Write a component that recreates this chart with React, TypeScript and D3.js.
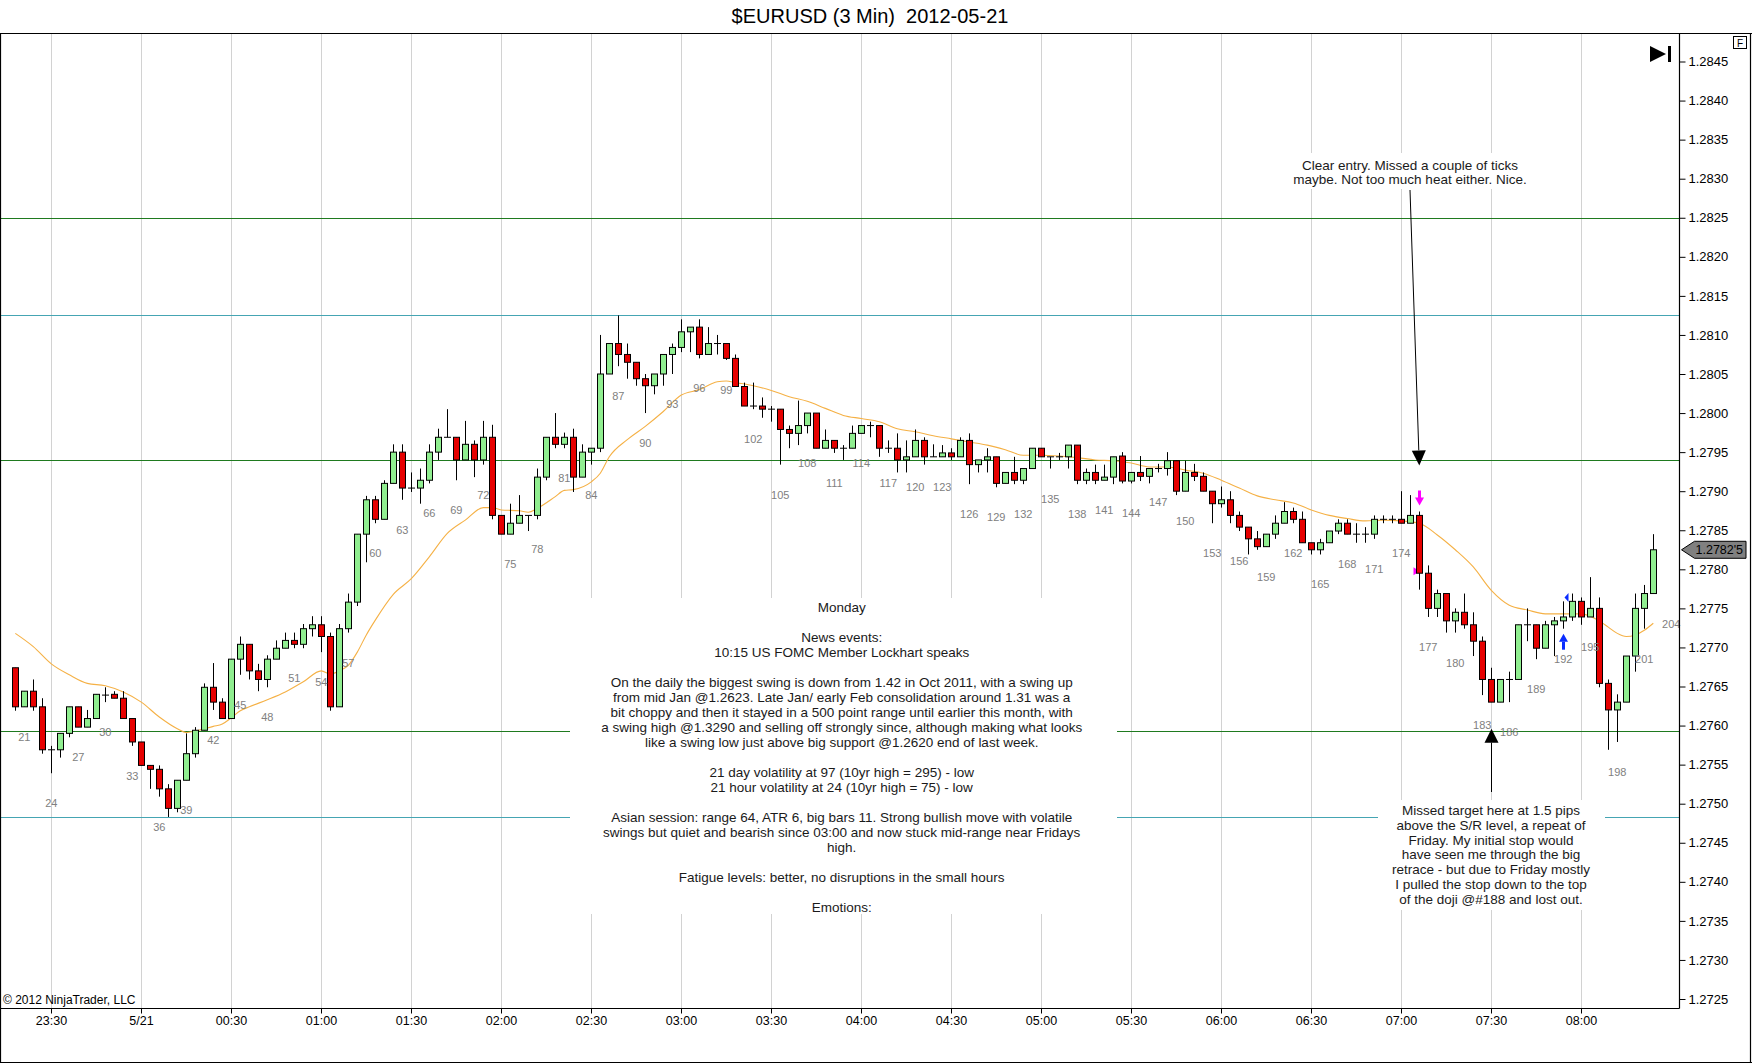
import React, { useEffect, useRef } from 'react';
import * as d3 from 'd3';

// ---------- DATA ----------
const firstBar = 20;

const opens = [
  1.27674, 1.27624, 1.27644, 1.27624, 1.27569, 1.27569, 1.27590, 1.27624, 1.27598, 1.27609,
  1.27639, 1.27640, 1.27635, 1.27609, 1.27579, 1.27549, 1.27544, 1.27519, 1.27494, 1.27530,
  1.27564, 1.27594, 1.27649, 1.27630, 1.27609, 1.27685, 1.27704, 1.27670, 1.27659, 1.27685,
  1.27699, 1.27709, 1.27704, 1.27724, 1.27729, 1.27714, 1.27624, 1.27724, 1.27758, 1.27845,
  1.27889, 1.27864, 1.27910, 1.27950, 1.27904, 1.27904, 1.27914, 1.27950, 1.27969, 1.27969,
  1.27940, 1.27960, 1.27940, 1.27969, 1.27869, 1.27845, 1.27859, 1.27869, 1.27869, 1.27918,
  1.27969, 1.27960, 1.27969, 1.27918, 1.27950, 1.27955, 1.28050, 1.28089, 1.28075, 1.28065,
  1.28044, 1.28035, 1.28050, 1.28075, 1.28084, 1.28104, 1.28110, 1.28075, 1.28089, 1.28089,
  1.28070, 1.28034, 1.28009, 1.28009, 1.28005, 1.28005, 1.27979, 1.27974, 1.27984, 1.28000,
  1.27955, 1.27965, 1.27955, 1.27955, 1.27974, 1.27984, 1.27984, 1.27955, 1.27955, 1.27940,
  1.27944, 1.27965, 1.27944, 1.27944, 1.27949, 1.27944, 1.27965, 1.27934, 1.27940, 1.27944,
  1.27910, 1.27924, 1.27914, 1.27929, 1.27955, 1.27944, 1.27944, 1.27944, 1.27959, 1.27914,
  1.27924, 1.27914, 1.27918, 1.27945, 1.27913, 1.27924, 1.27919, 1.27929, 1.27929, 1.27939,
  1.27900, 1.27924, 1.27919, 1.27900, 1.27884, 1.27889, 1.27869, 1.27854, 1.27839, 1.27829,
  1.27845, 1.27859, 1.27874, 1.27864, 1.27834, 1.27825, 1.27834, 1.27849, 1.27859, 1.27845,
  1.27845, 1.27845, 1.27864, 1.27864, 1.27864, 1.27859, 1.27869, 1.27795, 1.27750, 1.27769,
  1.27734, 1.27745, 1.27729, 1.27708, 1.27659, 1.27630, 1.27659, 1.27659, 1.27729, 1.27729,
  1.27699, 1.27729, 1.27734, 1.27739, 1.27759, 1.27739, 1.27750, 1.27654, 1.27620, 1.27630,
  1.27689, 1.27750, 1.27769,
];

const highs = [
  1.27674, 1.27644, 1.27659, 1.27635, 1.27574, 1.27590, 1.27624, 1.27624, 1.27620, 1.27640,
  1.27649, 1.27644, 1.27644, 1.27609, 1.27579, 1.27549, 1.27549, 1.27525, 1.27530, 1.27590,
  1.27598, 1.27654, 1.27680, 1.27635, 1.27685, 1.27714, 1.27704, 1.27679, 1.27690, 1.27709,
  1.27719, 1.27719, 1.27730, 1.27740, 1.27740, 1.27719, 1.27730, 1.27769, 1.27845, 1.27894,
  1.27894, 1.27914, 1.27960, 1.27960, 1.27924, 1.27929, 1.27960, 1.27980, 1.28005, 1.27969,
  1.27990, 1.27965, 1.27990, 1.27985, 1.27869, 1.27884, 1.27895, 1.27869, 1.27929, 1.27969,
  1.28000, 1.27975, 1.27980, 1.27960, 1.27955, 1.28100, 1.28089, 1.28125, 1.28089, 1.28065,
  1.28050, 1.28050, 1.28075, 1.28089, 1.28120, 1.28110, 1.28120, 1.28110, 1.28100, 1.28089,
  1.28075, 1.28039, 1.28039, 1.28020, 1.28009, 1.28005, 1.27984, 1.28016, 1.28000, 1.28000,
  1.27979, 1.27965, 1.27959, 1.27984, 1.27984, 1.27989, 1.27984, 1.27965, 1.27974, 1.27965,
  1.27979, 1.27969, 1.27960, 1.27959, 1.27955, 1.27969, 1.27974, 1.27940, 1.27955, 1.27944,
  1.27924, 1.27944, 1.27929, 1.27955, 1.27955, 1.27944, 1.27949, 1.27959, 1.27959, 1.27929,
  1.27934, 1.27934, 1.27944, 1.27950, 1.27924, 1.27945, 1.27929, 1.27935, 1.27950, 1.27939,
  1.27939, 1.27935, 1.27924, 1.27900, 1.27906, 1.27900, 1.27874, 1.27854, 1.27849, 1.27845,
  1.27869, 1.27886, 1.27879, 1.27874, 1.27834, 1.27839, 1.27849, 1.27864, 1.27864, 1.27859,
  1.27854, 1.27869, 1.27869, 1.27869, 1.27900, 1.27895, 1.27874, 1.27805, 1.27774, 1.27769,
  1.27750, 1.27769, 1.27745, 1.27714, 1.27674, 1.27659, 1.27669, 1.27729, 1.27750, 1.27729,
  1.27734, 1.27739, 1.27759, 1.27769, 1.27764, 1.27790, 1.27764, 1.27659, 1.27640, 1.27689,
  1.27769, 1.27780, 1.27845,
];

const lows = [
  1.27619, 1.27624, 1.27619, 1.27564, 1.27539, 1.27559, 1.27585, 1.27598, 1.27598, 1.27609,
  1.27630, 1.27635, 1.27609, 1.27574, 1.27549, 1.27519, 1.27509, 1.27483, 1.27489, 1.27530,
  1.27559, 1.27594, 1.27620, 1.27609, 1.27609, 1.27665, 1.27659, 1.27644, 1.27649, 1.27685,
  1.27699, 1.27699, 1.27699, 1.27714, 1.27694, 1.27619, 1.27624, 1.27719, 1.27753, 1.27809,
  1.27859, 1.27864, 1.27910, 1.27889, 1.27899, 1.27884, 1.27910, 1.27940, 1.27969, 1.27914,
  1.27940, 1.27918, 1.27934, 1.27864, 1.27845, 1.27845, 1.27859, 1.27849, 1.27864, 1.27914,
  1.27955, 1.27955, 1.27899, 1.27918, 1.27934, 1.27950, 1.28050, 1.28060, 1.28044, 1.28035,
  1.28000, 1.28024, 1.28035, 1.28050, 1.28078, 1.28078, 1.28070, 1.28075, 1.28075, 1.28068,
  1.28034, 1.28009, 1.28005, 1.27994, 1.27989, 1.27934, 1.27955, 1.27959, 1.27974, 1.27955,
  1.27955, 1.27949, 1.27940, 1.27955, 1.27974, 1.27969, 1.27944, 1.27949, 1.27924, 1.27924,
  1.27944, 1.27934, 1.27944, 1.27944, 1.27940, 1.27944, 1.27909, 1.27924, 1.27924, 1.27905,
  1.27910, 1.27909, 1.27909, 1.27929, 1.27944, 1.27929, 1.27940, 1.27929, 1.27909, 1.27909,
  1.27909, 1.27914, 1.27909, 1.27910, 1.27910, 1.27913, 1.27910, 1.27924, 1.27920, 1.27895,
  1.27900, 1.27913, 1.27900, 1.27859, 1.27879, 1.27859, 1.27849, 1.27819, 1.27825, 1.27829,
  1.27839, 1.27859, 1.27859, 1.27834, 1.27819, 1.27819, 1.27834, 1.27845, 1.27845, 1.27834,
  1.27834, 1.27839, 1.27859, 1.27859, 1.27859, 1.27859, 1.27774, 1.27739, 1.27739, 1.27719,
  1.27719, 1.27724, 1.27689, 1.27639, 1.27630, 1.27630, 1.27630, 1.27659, 1.27708, 1.27685,
  1.27699, 1.27689, 1.27724, 1.27734, 1.27729, 1.27739, 1.27649, 1.27569, 1.27579, 1.27630,
  1.27669, 1.27724, 1.27769,
];

const closes = [
  1.27624, 1.27644, 1.27624, 1.27569, 1.27569, 1.27590, 1.27624, 1.27598, 1.27609, 1.27640,
  1.27639, 1.27635, 1.27609, 1.27579, 1.27549, 1.27544, 1.27519, 1.27494, 1.27530, 1.27564,
  1.27594, 1.27649, 1.27630, 1.27609, 1.27685, 1.27704, 1.27670, 1.27659, 1.27685, 1.27699,
  1.27709, 1.27704, 1.27724, 1.27729, 1.27714, 1.27624, 1.27724, 1.27758, 1.27845, 1.27889,
  1.27864, 1.27910, 1.27950, 1.27904, 1.27904, 1.27914, 1.27950, 1.27969, 1.27969, 1.27940,
  1.27960, 1.27940, 1.27969, 1.27869, 1.27845, 1.27859, 1.27869, 1.27869, 1.27918, 1.27969,
  1.27960, 1.27969, 1.27918, 1.27950, 1.27955, 1.28050, 1.28089, 1.28075, 1.28065, 1.28044,
  1.28035, 1.28050, 1.28075, 1.28084, 1.28104, 1.28110, 1.28075, 1.28089, 1.28089, 1.28070,
  1.28034, 1.28009, 1.28009, 1.28005, 1.28005, 1.27979, 1.27974, 1.27984, 1.28000, 1.27955,
  1.27965, 1.27955, 1.27955, 1.27974, 1.27984, 1.27984, 1.27955, 1.27955, 1.27940, 1.27944,
  1.27965, 1.27944, 1.27944, 1.27949, 1.27944, 1.27965, 1.27934, 1.27940, 1.27944, 1.27910,
  1.27924, 1.27914, 1.27929, 1.27955, 1.27944, 1.27944, 1.27944, 1.27959, 1.27914, 1.27924,
  1.27914, 1.27918, 1.27944, 1.27913, 1.27924, 1.27919, 1.27929, 1.27929, 1.27939, 1.27900,
  1.27924, 1.27919, 1.27900, 1.27884, 1.27889, 1.27869, 1.27854, 1.27839, 1.27829, 1.27845,
  1.27859, 1.27874, 1.27864, 1.27834, 1.27825, 1.27834, 1.27849, 1.27859, 1.27845, 1.27845,
  1.27845, 1.27864, 1.27864, 1.27864, 1.27859, 1.27869, 1.27795, 1.27750, 1.27769, 1.27734,
  1.27745, 1.27729, 1.27708, 1.27659, 1.27630, 1.27659, 1.27659, 1.27729, 1.27729, 1.27699,
  1.27729, 1.27734, 1.27739, 1.27759, 1.27739, 1.27750, 1.27654, 1.27620, 1.27630, 1.27689,
  1.27750, 1.27769, 1.27825,
];

// moving average (bar number -> price)
const maBars = [
  20, 22, 24, 26, 28, 30, 32, 34, 36, 38, 39, 40, 42, 43, 44, 45, 46, 48, 50, 52,
  54, 55, 56, 57, 58, 59, 60, 62, 64, 66, 68, 70, 72, 73, 74, 76, 77, 78, 80, 81,
  82, 84, 85, 86, 88, 90, 92, 94, 96, 98, 99, 100, 102, 104, 106, 108, 110, 112, 114, 116,
  118, 120, 122, 124, 126, 128, 130, 132, 134, 136, 138, 140, 142, 144, 146, 148, 150, 152, 154, 156,
  158, 160, 162, 164, 166, 168, 170, 172, 174, 176, 178, 180, 182, 184, 186, 188, 190, 192, 194, 196,
  197, 198, 199, 200, 201, 202,
];
const maValues = [
  1.27718, 1.27701, 1.27679, 1.27665, 1.27654, 1.27651, 1.27643, 1.27630, 1.27611, 1.27596,
  1.27591, 1.27593, 1.27599, 1.27602, 1.27610, 1.27619, 1.27624, 1.27633, 1.27643, 1.27656,
  1.27670, 1.27666, 1.27670, 1.27677, 1.27694, 1.27716, 1.27735, 1.27768, 1.27788, 1.27816,
  1.27846, 1.27863, 1.27879, 1.27879, 1.27876, 1.27875, 1.27873, 1.27878, 1.27893, 1.27901,
  1.27902, 1.27912, 1.27923, 1.27944, 1.27966, 1.27983, 1.28002, 1.28023, 1.28030, 1.28040,
  1.28041, 1.28039, 1.28035, 1.28029, 1.28021, 1.28015, 1.28006, 1.27997, 1.27993, 1.27989,
  1.27980, 1.27976, 1.27971, 1.27967, 1.27963, 1.27959, 1.27953, 1.27946, 1.27946, 1.27945,
  1.27943, 1.27940, 1.27939, 1.27936, 1.27931, 1.27931, 1.27927, 1.27923, 1.27914, 1.27904,
  1.27894, 1.27889, 1.27885, 1.27876, 1.27869, 1.27865, 1.27862, 1.27863, 1.27862, 1.27859,
  1.27844, 1.27825, 1.27803, 1.27773, 1.27754, 1.27748, 1.27743, 1.27743, 1.27743, 1.27734,
  1.27726, 1.27718, 1.27714, 1.27716, 1.27722, 1.27731,
];

const timeTickBars = [24, 34, 44, 54, 64, 74, 84, 94, 104, 114, 124, 134, 144, 154, 164, 174, 184, 194];
const timeTickLabels = [
  '23:30', '5/21', '00:30', '01:00', '01:30', '02:00', '02:30', '03:00', '03:30',
  '04:00', '04:30', '05:00', '05:30', '06:00', '06:30', '07:00', '07:30', '08:00',
];

const priceTicks = [
  1.2725, 1.2730, 1.2735, 1.2740, 1.2745, 1.2750, 1.2755, 1.2760, 1.2765, 1.2770,
  1.2775, 1.2780, 1.2785, 1.2790, 1.2795, 1.2800, 1.2805, 1.2810, 1.2815, 1.2820,
  1.2825, 1.2830, 1.2835, 1.2840, 1.2845,
];

const greenLevels = [1.2825, 1.2794, 1.27593];
const tealLevels = [1.28125, 1.27483];

const labelStartBar = 21;
const labelStep = 3;
const lastLabelBar = 204;
const lastLabelPrice = 1.27768;

const lastPrice = 1.27825;
const lastPriceText = "1.2782'5";

const sellBar = 176;
const buyBar = 192;
const exitBar = 193;
const exitPrice = 1.27764;

const entryArrow = { bar: 176, price: 1.27933 };
const targetArrow = { bar: 184, price: 1.27596 };

const titleText = '$EURUSD (3 Min)  2012-05-21';
const copyrightText = '\u00A9 2012 NinjaTrader, LLC';

const noteLines = [
  'Monday',
  '',
  'News events:',
  '10:15 US FOMC Member Lockhart speaks',
  '',
  'On the daily the biggest swing is down from 1.42 in Oct 2011, with a swing up',
  'from mid Jan @1.2623. Late Jan/ early Feb consolidation around 1.31 was a',
  'bit choppy and then it stayed in a 500 point range until earlier this month, with',
  'a swing high @1.3290 and selling off strongly since, although making what looks',
  'like a swing low just above big support @1.2620 end of last week.',
  '',
  '21 day volatility at 97 (10yr high = 295) - low',
  '21 hour volatility at 24 (10yr high = 75) - low',
  '',
  'Asian session: range 64, ATR 6, big bars 11. Strong bullish move with volatile',
  'swings but quiet and bearish since 03:00 and now stuck mid-range near Fridays',
  'high.',
  '',
  'Fatigue levels: better, no disruptions in the small hours',
  '',
  'Emotions:',
];

const entryNote = ['Clear entry. Missed a couple of ticks', 'maybe. Not too much heat either. Nice.'];
const targetNote = [
  'Missed target here at 1.5 pips',
  'above the S/R level, a repeat of',
  'Friday. My initial stop would',
  'have seen me through the big',
  'retrace - but due to Friday mostly',
  'I pulled the stop down to the top',
  'of the doji @#188 and lost out.',
];

// ---------- STYLE ----------
const FONT = "'Liberation Sans', Arial, sans-serif";
const W = 1752;
const H = 1064;
const PLOT = { left: 0.5, right: 1679.5, top: 33.5, bottom: 1008.5 };
const UP = '#90ee90';
const DOWN = '#e60000';
const GREEN_LINE = '#1f7a1f';
const TEAL_LINE = '#45a5b3';
const MA_COLOR = '#f5b146';
const NOTE_SIZE = 13.5;

export default function App() {
  const axisRef = useRef<SVGGElement>(null);

  const x = d3.scaleLinear().domain([24, 194]).range([51.3, 1581.3]);
  const y = d3.scaleLinear().domain([1.2725, 1.2845]).range([999, 61.5]);
  const px = (n: number) => Math.round(x(n)) + 0.5;

  useEffect(() => {
    if (!axisRef.current) return;
    const g = d3.select(axisRef.current);
    g.selectAll('*').remove();
    const axis = d3
      .axisRight(y)
      .tickValues(priceTicks)
      .tickFormat(d3.format('.4f') as any)
      .tickSize(6)
      .tickPadding(3);
    g.call(axis as any);
    g.select('.domain').remove();
    g.selectAll('text').attr('font-family', FONT).attr('font-size', 13).attr('fill', '#000');
    g.selectAll('line').attr('stroke', '#000');
  }, []);

  const bars = opens.map((o, i) => ({
    n: firstBar + i,
    o,
    h: highs[i],
    l: lows[i],
    c: closes[i],
  }));
  const lowByBar = new Map(bars.map((b) => [b.n, b.l]));

  const labelBars: number[] = [];
  for (let n = labelStartBar; n <= lastLabelBar; n += labelStep) labelBars.push(n);

  const maLine = d3
    .line<number>()
    .x((_, i) => x(maBars[i]))
    .y((v) => y(v))
    .curve(d3.curveMonotoneX)(maValues);

  const entryTip = { x: x(entryArrow.bar), y: y(entryArrow.price) };
  const entryStart = { x: 1410, y: 190 };
  const eAng = Math.atan2(entryTip.y - entryStart.y, entryTip.x - entryStart.x);
  const headLen = 15;
  const headHalf = 7;
  const eBase = { x: entryTip.x - headLen * Math.cos(eAng), y: entryTip.y - headLen * Math.sin(eAng) };
  const ePerp = { x: -Math.sin(eAng) * headHalf, y: Math.cos(eAng) * headHalf };

  const targetTip = { x: px(targetArrow.bar), y: y(targetArrow.price) };
  const targetStartY = 792;

  const sellX = px(sellBar);
  const sellTip = y(highs[sellBar - firstBar]) - 6;
  const buyX = px(buyBar);
  const buyTip = y(lows[buyBar - firstBar]) + 5;
  const sellCloseY = y(closes[sellBar - firstBar]);
  const exitX = px(exitBar);
  const exitY = y(exitPrice);

  const lastY = y(lastPrice);

  return (
    <svg
      width={W}
      height={H}
      viewBox={`0 0 ${W} ${H}`}
      style={{ position: 'absolute', left: 0, top: 0, background: '#fff', fontFamily: FONT }}
    >
      <rect x={0} y={0} width={W} height={H} fill="#fff" />

      {/* title */}
      <text
        x={870}
        y={23}
        textAnchor="middle"
        fontSize={20}
        fill="#000"
        xmlSpace="preserve"
        style={{ whiteSpace: 'pre' }}
      >
        {titleText}
      </text>

      {/* vertical grid */}
      {timeTickBars.map((b) => (
        <line key={'g' + b} x1={px(b)} x2={px(b)} y1={PLOT.top} y2={PLOT.bottom} stroke="#d2d2d2" strokeWidth={1} />
      ))}

      {/* S/R levels */}
      {greenLevels.map((p) => (
        <line key={'gl' + p} x1={PLOT.left} x2={PLOT.right} y1={Math.round(y(p)) + 0.5} y2={Math.round(y(p)) + 0.5} stroke={GREEN_LINE} strokeWidth={1.2} />
      ))}
      {tealLevels.map((p) => (
        <line key={'tl' + p} x1={PLOT.left} x2={PLOT.right} y1={Math.round(y(p)) + 0.5} y2={Math.round(y(p)) + 0.5} stroke={TEAL_LINE} strokeWidth={1.2} />
      ))}

      {/* moving average */}
      <path d={maLine || ''} fill="none" stroke={MA_COLOR} strokeWidth={1.1} />

      {/* magenta entry flag (behind candle) */}
      <polygon
        points={`${sellX - 6},${sellCloseY - 6} ${sellX - 6},${sellCloseY + 2} ${sellX},${sellCloseY - 2}`}
        fill="#ff00ff"
      />

      {/* candles */}
      {bars.map((b) => {
        const cx = px(b.n);
        const top = y(Math.max(b.o, b.c));
        const bot = y(Math.min(b.o, b.c));
        return (
          <g key={'c' + b.n}>
            <line x1={cx} x2={cx} y1={y(b.h)} y2={y(b.l)} stroke="#000" strokeWidth={1} />
            {b.o === b.c ? (
              <line x1={cx - 3.5} x2={cx + 3.5} y1={top} y2={top} stroke="#000" strokeWidth={1} />
            ) : (
              <rect
                x={cx - 3}
                y={top}
                width={6}
                height={Math.max(1, bot - top)}
                fill={b.c > b.o ? UP : DOWN}
                stroke="#000"
                strokeWidth={1}
              />
            )}
          </g>
        );
      })}

      {/* bar numbers */}
      {labelBars.map((n) => {
        const low = lowByBar.has(n) ? (lowByBar.get(n) as number) : lastLabelPrice;
        return (
          <text key={'bl' + n} x={x(n)} y={y(low) + 34} textAnchor="middle" fontSize={11} fill="#808080">
            {n}
          </text>
        );
      })}

      {/* sell arrow (magenta) */}
      <g fill="#ff00ff">
        <rect x={sellX - 1.5} y={sellTip - 15} width={3} height={8} />
        <polygon points={`${sellX - 4.5},${sellTip - 8} ${sellX + 4.5},${sellTip - 8} ${sellX},${sellTip}`} />
      </g>

      {/* buy arrow (blue) */}
      <g fill="#0a2cff">
        <polygon points={`${buyX - 4.5},${buyTip + 8} ${buyX + 4.5},${buyTip + 8} ${buyX},${buyTip}`} />
        <rect x={buyX - 1.5} y={buyTip + 8} width={3} height={8} />
        <polygon points={`${exitX - 8},${exitY} ${exitX - 4},${exitY - 4.5} ${exitX - 4},${exitY + 4.5}`} />
      </g>

      {/* main notes */}
      <rect x={570} y={598} width={547} height={316} fill="#fff" />
      {noteLines.map((t, i) => (
        <text key={'n' + i} x={841.7} y={611.5 + i * 15} textAnchor="middle" fontSize={NOTE_SIZE} fill="#1a1a1a">
          {t}
        </text>
      ))}

      {/* entry note */}
      <rect x={1290} y={153} width={240} height={36} fill="#fff" />
      {entryNote.map((t, i) => (
        <text key={'e' + i} x={1410} y={169.5 + i * 14.5} textAnchor="middle" fontSize={NOTE_SIZE} fill="#1a1a1a">
          {t}
        </text>
      ))}
      <line x1={entryStart.x} y1={entryStart.y} x2={eBase.x} y2={eBase.y} stroke="#000" strokeWidth={1} />
      <polygon
        points={`${entryTip.x},${entryTip.y} ${eBase.x + ePerp.x},${eBase.y + ePerp.y} ${eBase.x - ePerp.x},${eBase.y - ePerp.y}`}
        fill="#000"
      />

      {/* target note */}
      <rect x={1378} y={800} width={227} height={110} fill="#fff" />
      {targetNote.map((t, i) => (
        <text key={'t' + i} x={1491} y={815.2 + i * 14.75} textAnchor="middle" fontSize={NOTE_SIZE} fill="#1a1a1a">
          {t}
        </text>
      ))}
      <line x1={targetTip.x} x2={targetTip.x} y1={targetStartY} y2={targetTip.y + 14} stroke="#000" strokeWidth={1} />
      <polygon
        points={`${targetTip.x},${targetTip.y} ${targetTip.x - 7},${targetTip.y + 14} ${targetTip.x + 7},${targetTip.y + 14}`}
        fill="#000"
      />

      {/* go-to-end symbol */}
      <polygon points="1650,46 1650,62 1666,54" fill="#000" />
      <rect x={1668} y={46} width={3} height={16} fill="#000" />

      {/* copyright */}
      <text x={3} y={1004} fontSize={12} fill="#000">
        {copyrightText}
      </text>

      {/* plot frame */}
      <line x1={0} x2={W} y1={PLOT.top} y2={PLOT.top} stroke="#000" strokeWidth={1.2} />
      <line x1={PLOT.right} x2={PLOT.right} y1={PLOT.top} y2={PLOT.bottom} stroke="#000" strokeWidth={1.2} />
      <line x1={0} x2={PLOT.right} y1={PLOT.bottom} y2={PLOT.bottom} stroke="#000" strokeWidth={1.2} />
      <line x1={0.5} x2={0.5} y1={PLOT.top} y2={H - 1.5} stroke="#000" strokeWidth={1.2} />
      <line x1={W - 1.5} x2={W - 1.5} y1={PLOT.top} y2={H - 1.5} stroke="#000" strokeWidth={1.2} />
      <line x1={0} x2={W} y1={H - 1.5} y2={H - 1.5} stroke="#000" strokeWidth={1.2} />

      {/* time axis */}
      {timeTickBars.map((b, i) => (
        <g key={'tt' + b}>
          <line x1={px(b)} x2={px(b)} y1={PLOT.bottom} y2={PLOT.bottom + 5} stroke="#000" />
          <text x={px(b)} y={1025} textAnchor="middle" fontSize={12.5} fill="#000">
            {timeTickLabels[i]}
          </text>
        </g>
      ))}

      {/* price axis */}
      <g ref={axisRef} transform={`translate(${PLOT.right},0)`} />

      {/* last price marker */}
      <polygon
        points={`${PLOT.right + 2},${lastY} ${PLOT.right + 15},${lastY - 8.5} ${W - 6},${lastY - 8.5} ${W - 6},${lastY + 8.5} ${PLOT.right + 15},${lastY + 8.5}`}
        fill="#808080"
        stroke="#000"
        strokeWidth={1}
      />
      <text x={PLOT.right + 16} y={lastY + 4.5} fontSize={12.5} fill="#000">
        {lastPriceText}
      </text>

      {/* F box */}
      <rect x={1733.5} y={36.5} width={13} height={12} fill="#fff" stroke="#000" strokeWidth={1} />
      <text x={1740} y={46.5} textAnchor="middle" fontSize={10} fill="#000">
        F
      </text>
    </svg>
  );
}
